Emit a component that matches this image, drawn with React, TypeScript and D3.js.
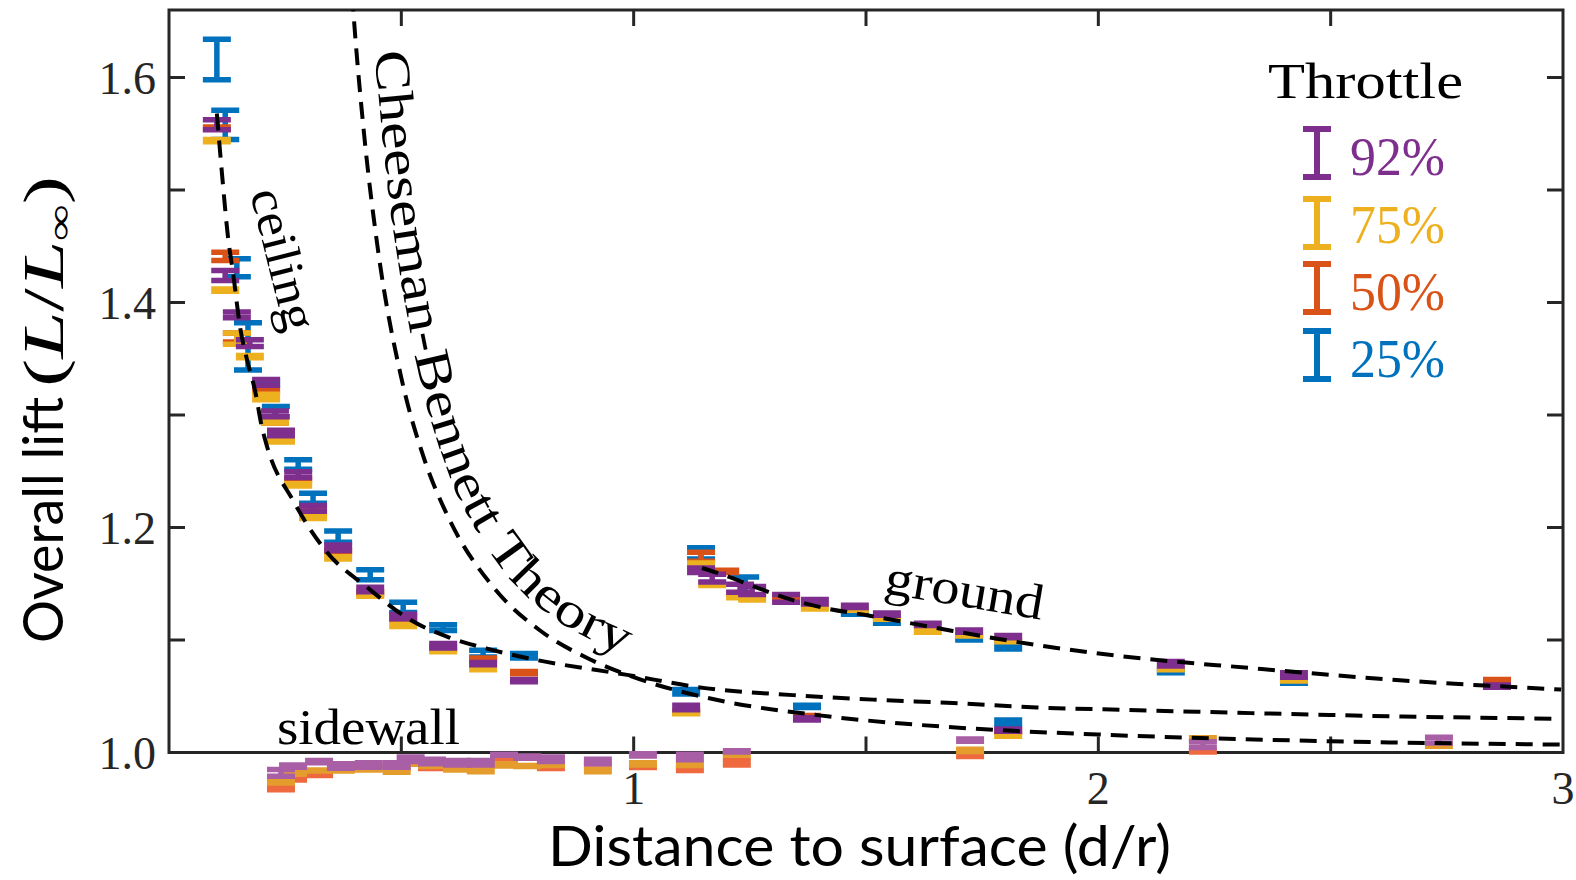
import React from "react";
import * as d3 from "d3";

// ---------- data ----------
const throttleLabels = ["92%", "75%", "50%", "25%"];
const throttleColors = ["#7E2F8E", "#EDB120", "#D95319", "#0072BD"];
// sidewall points appear in lighter tones: purple, yellow, orange
const sidewallColors = ["#A95FA5", "#E49C2C", "#EE6A3E"];

const xTickValues = [0.5, 1, 1.5, 2, 2.5];
const xTickLabels = [1, 2, 3];
const yTickValues = [1.1, 1.2, 1.3, 1.4, 1.5, 1.6];
const yTickLabels = [1.0, 1.2, 1.4, 1.6];

// [distance, lift, error]
const ceilingBlue: [number, number, number][] = [
  [0.103, 1.616, 0.018], [0.121, 1.558, 0.013], [0.146, 1.431, 0.008], [0.17, 1.361, 0.021],
  [0.209, 1.329, 0.002], [0.23, 1.303, 0.0045], [0.278, 1.256, 0.0042], [0.31, 1.226, 0.0045],
  [0.364, 1.192, 0.005], [0.433, 1.158, 0.0045], [0.504, 1.129, 0.0045], [0.59, 1.111, 0.0025],
  [0.676, 1.088, 0.003], [0.764, 1.086, 0.002], [1.113, 1.054, 0.002], [1.373, 1.041, 0.001],
  [1.806, 1.027, 0.002],
];
const ceilingOrange: [number, number, number][] = [
  [0.103, 1.555, 0.001], [0.121, 1.441, 0.0036], [0.146, 1.369, 0.004], [0.209, 1.322, 0.001],
  [0.228, 1.294, 0.001], [0.278, 1.243, 0.001], [0.31, 1.214, 0.001], [0.364, 1.179, 0.001],
  [0.433, 1.142, 0.001], [0.504, 1.119, 0.001], [0.59, 1.093, 0.001], [0.676, 1.083, 0.001],
  [0.764, 1.071, 0.001], [1.113, 1.036, 0.001], [1.373, 1.032, 0.001], [1.806, 1.019, 0.001],
];
const ceilingYellow: [number, number, number][] = [
  [0.103, 1.544, 0.001], [0.121, 1.411, 0.001], [0.146, 1.368, 0.005], [0.174, 1.352, 0.001],
  [0.209, 1.316, 0.0025], [0.228, 1.294, 0.001], [0.241, 1.277, 0.001], [0.278, 1.238, 0.001],
  [0.31, 1.209, 0.001], [0.364, 1.173, 0.001], [0.433, 1.14, 0.001], [0.504, 1.113, 0.001],
  [0.59, 1.09, 0.0005], [0.676, 1.074, 0.0005], [1.113, 1.035, 0.0005], [1.806, 1.015, 0.0005],
];
const ceilingPurple: [number, number, number][] = [
  [0.103, 1.558, 0.0045], [0.121, 1.424, 0.0045], [0.146, 1.389, 0.0025], [0.174, 1.364, 0.003],
  [0.209, 1.329, 0.0025], [0.228, 1.301, 0.0025], [0.241, 1.284, 0.0025], [0.278, 1.247, 0.0025],
  [0.31, 1.217, 0.0025], [0.364, 1.182, 0.0025], [0.433, 1.145, 0.002], [0.504, 1.121, 0.002],
  [0.59, 1.095, 0.002], [0.676, 1.079, 0.001], [0.764, 1.064, 0.001], [1.113, 1.04, 0.002],
  [1.373, 1.03, 0.001], [1.806, 1.02, 0.001],
];

const groundBlue: [number, number, number][] = [
  [1.145, 1.177, 0.0049], [1.24, 1.147, 0.009], [1.476, 1.124, 0.001], [1.545, 1.116, 0.001],
  [1.722, 1.101, 0.001], [1.806, 1.094, 0.002], [2.156, 1.072, 0.001], [2.421, 1.062, 0.0005],
];
const groundOrange: [number, number, number][] = [
  [1.145, 1.174, 0.004], [1.197, 1.161, 0.001], [1.328, 1.137, 0.001], [2.858, 1.064, 0.001],
];
const groundYellow: [number, number, number][] = [
  [1.145, 1.168, 0.0005], [1.169, 1.149, 0.0005], [1.229, 1.138, 0.0005], [1.255, 1.136, 0.0005],
  [1.39, 1.128, 0.0005], [1.476, 1.127, 0.0005], [1.545, 1.119, 0.0005], [1.633, 1.108, 0.001],
  [1.722, 1.104, 0.0005], [1.806, 1.099, 0.0005], [2.156, 1.074, 0.0005], [2.421, 1.064, 0.0005],
];
const groundPurple: [number, number, number][] = [
  [1.145, 1.162, 0.002], [1.169, 1.155, 0.0035], [1.229, 1.146, 0.0035], [1.255, 1.144, 0.0035],
  [1.328, 1.137, 0.0035], [1.39, 1.134, 0.002], [1.476, 1.13, 0.001], [1.545, 1.123, 0.001],
  [1.633, 1.114, 0.001], [1.722, 1.108, 0.001], [1.806, 1.103, 0.001], [2.156, 1.079, 0.002],
  [2.421, 1.069, 0.002], [2.858, 1.059, 0.001],
];

const sidewallPurple: [number, number, number][] = [
  [0.241, 0.982, 0.003], [0.267, 0.988, 0.001], [0.323, 0.992, 0.001], [0.37, 0.988, 0.002],
  [0.43, 0.989, 0.002], [0.49, 0.989, 0.002], [0.52, 0.994, 0.002], [0.566, 0.992, 0.002],
  [0.62, 0.991, 0.002], [0.671, 0.991, 0.002], [0.721, 0.998, 0.0005], [0.771, 0.996, 0.001],
  [0.822, 0.994, 0.002], [0.923, 0.992, 0.002], [1.02, 0.998, 0.001], [1.121, 0.996, 0.0025],
  [1.222, 1.001, 0.0005], [1.724, 1.011, 0.001], [2.225, 1.007, 0.0025], [2.733, 1.011, 0.0025],
];
const sidewallYellow: [number, number, number][] = [
  [0.241, 0.974, 0.001], [0.267, 0.982, 0.001], [0.323, 0.984, 0.0005], [0.37, 0.984, 0.0005],
  [0.43, 0.985, 0.0005], [0.49, 0.983, 0.0005], [0.52, 0.99, 0.0005], [0.566, 0.988, 0.0005],
  [0.62, 0.985, 0.0005], [0.671, 0.984, 0.001], [0.721, 0.989, 0.001], [0.771, 0.988, 0.0005],
  [0.822, 0.989, 0.0005], [0.923, 0.984, 0.001], [1.02, 0.99, 0.001], [1.121, 0.989, 0.0005],
  [1.222, 0.998, 0.0005], [1.724, 1.002, 0.001], [2.225, 1.013, 0.0002], [2.733, 1.006, 0.0005],
];
const sidewallOrange: [number, number, number][] = [
  [0.241, 0.968, 0.001], [0.267, 0.976, 0.0005], [0.323, 0.98, 0.0005], [0.37, 0.989, 0.0003],
  [0.43, 0.988, 0.0003], [0.49, 0.986, 0.0003], [0.52, 0.99, 0.0003], [0.566, 0.986, 0.0003],
  [0.62, 0.991, 0.0003], [0.721, 0.995, 0.0003], [0.822, 0.986, 0.0003], [0.923, 0.99, 0.0003],
  [1.02, 0.987, 0.0003], [1.121, 0.985, 0.001], [1.222, 0.991, 0.002], [1.724, 0.997, 0.0005],
  [2.225, 1.001, 0.0005],
];

// dashed curves [distance, lift]
const cbTheory: [number, number][] = [
  [0.39, 1.698], [0.4, 1.641], [0.42, 1.549], [0.45, 1.446], [0.5, 1.333], [0.55, 1.26],
  [0.6, 1.21], [0.7, 1.146], [0.8, 1.108], [0.9, 1.084], [1.0, 1.067], [1.2, 1.045],
  [1.4, 1.033], [1.7, 1.022], [2.0, 1.016], [2.5, 1.01], [3.0, 1.007],
];
const ceilingFit: [number, number][] = [
  [0.103, 1.568], [0.115, 1.51], [0.127, 1.458], [0.138, 1.426], [0.153, 1.378], [0.168, 1.349],
  [0.185, 1.322], [0.2, 1.289], [0.211, 1.272], [0.267, 1.224], [0.34, 1.178], [0.426, 1.147],
  [0.519, 1.118], [0.598, 1.103], [0.697, 1.091], [0.77, 1.084], [0.986, 1.069], [1.158, 1.057],
  [1.343, 1.051], [1.515, 1.047], [1.687, 1.044], [1.868, 1.04], [2.047, 1.038], [2.33, 1.035],
  [2.656, 1.032], [2.996, 1.03],
];
const groundFit: [number, number][] = [
  [1.147, 1.164], [1.192, 1.158], [1.25, 1.149], [1.33, 1.137], [1.416, 1.128], [1.502, 1.122],
  [1.687, 1.108], [1.86, 1.096], [2.04, 1.086], [2.33, 1.075], [2.656, 1.064], [2.996, 1.056],
];

const SERIF = "'Liberation Serif', 'DejaVu Serif', serif";
const SANS = "Lato, 'Noto Sans', 'Liberation Sans', sans-serif";

export default function App() {
  const W = 1576;
  const H = 880;
  const left = 169, right = 1563, top = 10, bottom = 752.5;
  const x = d3.scaleLinear().domain([0, 3]).range([left, right]);
  const y = d3.scaleLinear().domain([1, 1.66]).range([bottom, top]);

  const capHW = 14;
  const ebWidth = 5.5;
  const ebPath = (d: [number, number, number]) => {
    const cx = x(d[0]);
    const y1 = y(d[1] + d[2]);
    const y2 = y(d[1] - d[2]);
    return `M${cx - capHW},${y1}H${cx + capHW}M${cx},${y1}V${y2}M${cx - capHW},${y2}H${cx + capHW}`;
  };

  const line = d3
    .line<[number, number]>()
    .x((d) => x(d[0]))
    .y((d) => y(d[1]))
    .curve(d3.curveMonotoneX);

  // text path for Cheeseman-Bennett label: offset of the theory curve
  const cbPx = cbTheory.slice(1).map((d) => [x(d[0]), y(d[1])] as [number, number]);
  const off = 18;
  const cbOffset = cbPx.map((p, i) => {
    const a = cbPx[Math.max(0, i - 1)];
    const b = cbPx[Math.min(cbPx.length - 1, i + 1)];
    const dx = b[0] - a[0];
    const dy = b[1] - a[1];
    const L = Math.hypot(dx, dy) || 1;
    return [p[0] + (off * dy) / L, p[1] - (off * dx) / L] as [number, number];
  });
  const cbTextPath = d3.line().curve(d3.curveCatmullRom)(cbOffset) || "";

  const series = [
    { data: sidewallOrange, color: sidewallColors[2] },
    { data: sidewallYellow, color: sidewallColors[1] },
    { data: sidewallPurple, color: sidewallColors[0] },
    { data: ceilingBlue, color: throttleColors[3] },
    { data: groundBlue, color: throttleColors[3] },
    { data: ceilingOrange, color: throttleColors[2] },
    { data: groundOrange, color: throttleColors[2] },
    { data: ceilingYellow, color: throttleColors[1] },
    { data: groundYellow, color: throttleColors[1] },
    { data: ceilingPurple, color: throttleColors[0] },
    { data: groundPurple, color: throttleColors[0] },
  ];

  const axisColor = "#262626";
  const tickLen = 16;
  const legendY = [153, 223, 288, 355];
  const legendBase = [175, 243, 310, 377];

  return (
    <svg
      width={W}
      height={H}
      viewBox={`0 0 ${W} ${H}`}
      style={{ position: "absolute", left: 0, top: 0, background: "#fff" }}
    >
      <defs>
        <clipPath id="plotClip">
          <rect x={left} y={top} width={right - left} height={bottom - top} />
        </clipPath>
        <path id="cbTextPath" d={cbTextPath} />
      </defs>
      <rect x={0} y={0} width={W} height={H} fill="#fff" />

      {/* axes box */}
      <rect
        x={left}
        y={top}
        width={right - left}
        height={bottom - top}
        fill="none"
        stroke={axisColor}
        strokeWidth={3}
      />
      {xTickValues.map((t) => (
        <g key={"xt" + t} stroke={axisColor} strokeWidth={3}>
          <line x1={x(t)} x2={x(t)} y1={bottom} y2={bottom - tickLen} />
          <line x1={x(t)} x2={x(t)} y1={top} y2={top + tickLen} />
        </g>
      ))}
      {yTickValues.map((t) => (
        <g key={"yt" + t} stroke={axisColor} strokeWidth={3}>
          <line x1={left} x2={left + tickLen} y1={y(t)} y2={y(t)} />
          <line x1={right} x2={right - tickLen} y1={y(t)} y2={y(t)} />
        </g>
      ))}
      {yTickLabels.map((t) => (
        <text
          key={"yl" + t}
          x={156}
          y={y(t) + 16}
          textAnchor="end"
          fontFamily={SERIF}
          fontSize={46}
          fill={axisColor}
        >
          {t.toFixed(1)}
        </text>
      ))}
      {xTickLabels.map((t) => (
        <text
          key={"xl" + t}
          x={x(t)}
          y={804}
          textAnchor="middle"
          fontFamily={SERIF}
          fontSize={46}
          fill={axisColor}
        >
          {String(t)}
        </text>
      ))}

      {/* error bars */}
      {series.map((s, si) => (
        <g key={"s" + si} stroke={s.color} strokeWidth={ebWidth} fill="none">
          {s.data.map((d, i) => (
            <path key={i} d={ebPath(d)} />
          ))}
        </g>
      ))}

      {/* dashed curves */}
      <g clipPath="url(#plotClip)" fill="none" stroke="#000" strokeWidth={4} strokeDasharray="17 10">
        <path d={line(cbTheory) || ""} />
        <path d={line(ceilingFit) || ""} />
        <path d={line(groundFit) || ""} />
      </g>

      {/* annotations */}
      <text fontFamily={SERIF} fontSize={50} fill="#000">
        <textPath href="#cbTextPath" startOffset={22} textLength={690} lengthAdjust="spacingAndGlyphs">
          Cheeseman-Bennett Theory
        </textPath>
      </text>
      <text
        transform="translate(250,193) rotate(76)"
        fontFamily={SERIF}
        fontSize={50}
        textLength={145}
        lengthAdjust="spacingAndGlyphs"
      >
        ceiling
      </text>
      <text
        transform="translate(883,593) rotate(9.6)"
        fontFamily={SERIF}
        fontSize={50}
        textLength={160}
        lengthAdjust="spacingAndGlyphs"
      >
        ground
      </text>
      <text x={277} y={744} fontFamily={SERIF} fontSize={50} textLength={183} lengthAdjust="spacingAndGlyphs">
        sidewall
      </text>

      {/* legend */}
      <text x={1268} y={98} fontFamily={SERIF} fontSize={50} textLength={195} lengthAdjust="spacingAndGlyphs">
        Throttle
      </text>
      {throttleLabels.map((lab, i) => {
        const cy = legendY[i];
        const hh = 24;
        return (
          <g key={lab}>
            <path
              d={`M${1317 - 14},${cy - hh}H${1317 + 14}M${1317},${cy - hh}V${cy + hh}M${1317 - 14},${cy + hh}H${1317 + 14}`}
              stroke={throttleColors[i]}
              strokeWidth={6}
              fill="none"
            />
            <text
              x={1350}
              y={legendBase[i]}
              fontFamily={SERIF}
              fontSize={54}
              fill={throttleColors[i]}
              textLength={95}
              lengthAdjust="spacingAndGlyphs"
            >
              {lab}
            </text>
          </g>
        );
      })}

      {/* axis labels */}
      <text x={548} y={866} fontFamily={SANS} fontSize={56} textLength={623} lengthAdjust="spacingAndGlyphs">
        Distance to surface (d/r)
      </text>
      <text
        transform="translate(63,643) rotate(-90)"
        fontFamily={SANS}
        fontSize={56}
        textLength={246}
        lengthAdjust="spacingAndGlyphs"
      >
        Overall lift
      </text>
      <text
        transform="translate(63,387) rotate(-90)"
        fontFamily={SERIF}
        fontSize={56}
        textLength={211}
        lengthAdjust="spacingAndGlyphs"
      >
        <tspan>(</tspan>
        <tspan fontStyle="italic">L</tspan>
        <tspan>/</tspan>
        <tspan fontStyle="italic">L</tspan>
        <tspan fontSize={34} dy={8}>∞</tspan>
        <tspan dy={-8}>)</tspan>
      </text>
    </svg>
  );
}
